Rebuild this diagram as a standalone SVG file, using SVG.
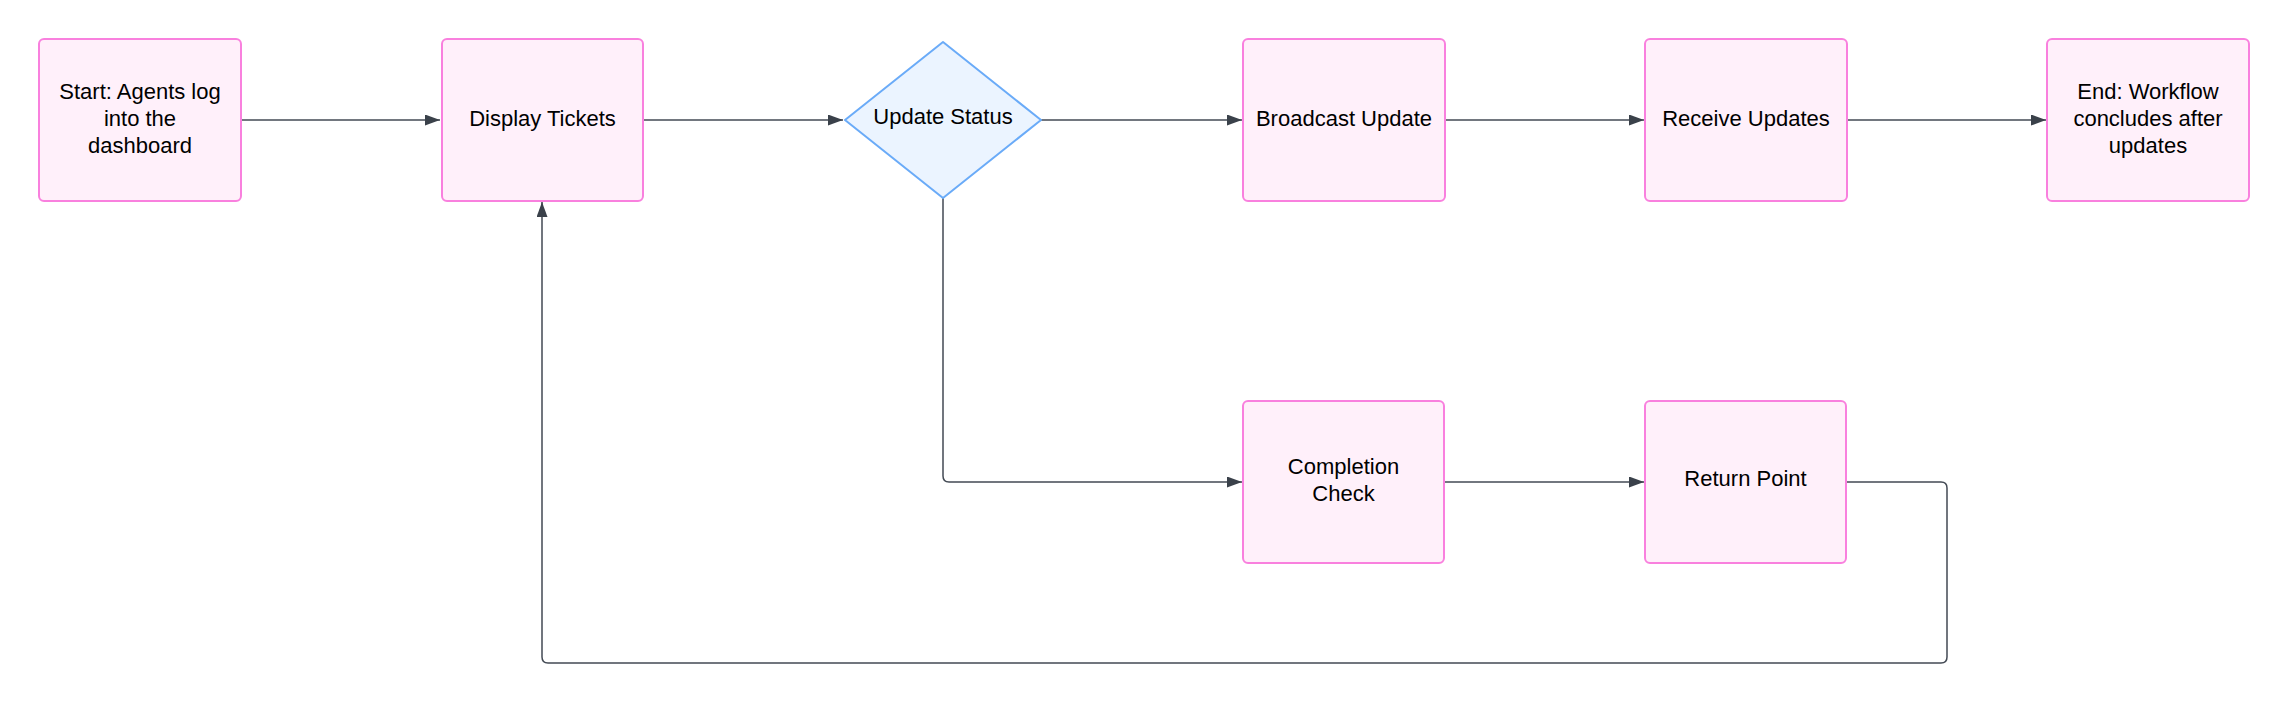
<svg xmlns="http://www.w3.org/2000/svg" width="2290" height="704" viewBox="0 0 2290 704">
  <style>
    .box { fill: #fff0fa; stroke: #f980de; stroke-width: 2; }
    .dia { fill: #ebf4ff; stroke: #6aabf8; stroke-width: 2; stroke-linejoin: round; }
    .lbl { font-family: "Liberation Sans", Arial, sans-serif; font-size: 22px; fill: #000; text-anchor: middle; }
    .edge { fill: none; stroke: #434a54; stroke-width: 1.5; }
  </style>
  <defs>
    <marker id="arr" markerUnits="userSpaceOnUse" markerWidth="16" markerHeight="12" refX="15" refY="5.5" orient="auto">
      <path d="M0,0 L15,5.5 L0,11 Z" fill="#3a414a"/>
    </marker>
  </defs>
  <rect width="2290" height="704" fill="#ffffff"/>

  <g id="connectors">
    <path class="edge" d="M241,120 H440" marker-end="url(#arr)"/>
    <path class="edge" d="M643,120 H843" marker-end="url(#arr)"/>
    <path class="edge" d="M1041,120 H1242" marker-end="url(#arr)"/>
    <path class="edge" d="M1445,120 H1644" marker-end="url(#arr)"/>
    <path class="edge" d="M1847,120 H2046" marker-end="url(#arr)"/>
    <path class="edge" d="M943,198 V476 Q943,482 949,482 H1242" marker-end="url(#arr)"/>
    <path class="edge" d="M1444,482 H1644" marker-end="url(#arr)"/>
    <path class="edge" d="M1846,482 H1941 Q1947,482 1947,488 V657 Q1947,663 1941,663 H548 Q542,663 542,657 V202" marker-end="url(#arr)"/>
  </g>

  <g id="start">
    <rect class="box" x="39" y="39" width="202" height="162" rx="5"/>
    <text class="lbl" x="140" y="99">Start: Agents log</text>
    <text class="lbl" x="140" y="126">into the</text>
    <text class="lbl" x="140" y="153">dashboard</text>
  </g>
  <g id="display-tickets">
    <rect class="box" x="442" y="39" width="201" height="162" rx="5"/>
    <text class="lbl" x="542.5" y="126">Display Tickets</text>
  </g>
  <g id="update-status">
    <polygon class="dia" points="943,42 1041,120 943,198 845,120"/>
    <text class="lbl" x="943" y="124">Update Status</text>
  </g>
  <g id="broadcast-update">
    <rect class="box" x="1243" y="39" width="202" height="162" rx="5"/>
    <text class="lbl" x="1344" y="126">Broadcast Update</text>
  </g>
  <g id="receive-updates">
    <rect class="box" x="1645" y="39" width="202" height="162" rx="5"/>
    <text class="lbl" x="1746" y="126">Receive Updates</text>
  </g>
  <g id="end">
    <rect class="box" x="2047" y="39" width="202" height="162" rx="5"/>
    <text class="lbl" x="2148" y="99">End: Workflow</text>
    <text class="lbl" x="2148" y="126">concludes after</text>
    <text class="lbl" x="2148" y="153">updates</text>
  </g>
  <g id="completion-check">
    <rect class="box" x="1243" y="401" width="201" height="162" rx="5"/>
    <text class="lbl" x="1343.5" y="474">Completion</text>
    <text class="lbl" x="1343.5" y="501">Check</text>
  </g>
  <g id="return-point">
    <rect class="box" x="1645" y="401" width="201" height="162" rx="5"/>
    <text class="lbl" x="1745.5" y="486">Return Point</text>
  </g>
</svg>
